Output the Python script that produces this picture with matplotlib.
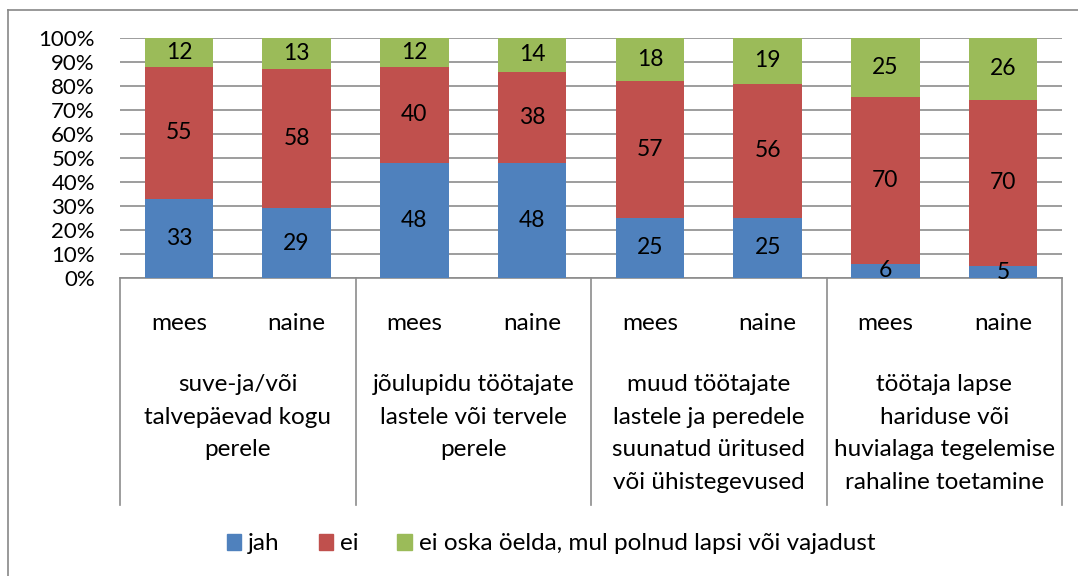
import numpy as np
import matplotlib.pyplot as plt
from matplotlib.lines import Line2D
from matplotlib.patches import Patch

plt.rcParams['font.family'] = ['Lato', 'DejaVu Sans']

groups = [
    "suve-ja/või\ntalvepäevad kogu\nperele",
    "jõulupidu töötajate\nlastele või tervele\nperele",
    "muud töötajate\nlastele ja peredele\nsuunatud üritused\nvõi ühistegevused",
    "töötaja lapse\nhariduse või\nhuvialaga tegelemise\nrahaline toetamine",
]
genders = ["mees", "naine"]
jah = [33, 29, 48, 48, 25, 25, 6, 5]
ei = [55, 58, 40, 38, 57, 56, 70, 70]
ei_oska = [12, 13, 12, 14, 18, 19, 25, 26]
series_names = ["jah", "ei", "ei oska öelda, mul polnud lapsi või vajadust"]
colors = ["#4F81BD", "#C0504D", "#9BBB59"]

W, H = 1078, 576
FS = 17.5
fig = plt.figure(figsize=(W / 100, H / 100), dpi=100)
ax = fig.add_axes([120 / W, 1 - 278 / H, (1062 - 120) / W, 240 / H])

# outer chart frame (left and top edges)
fig.add_artist(Line2D([8 / W, 8 / W], [0, 1 - 10 / H], color="#888888", lw=1.2))
fig.add_artist(Line2D([8 / W, 1], [1 - 10 / H, 1 - 10 / H], color="#888888", lw=1.2))

data = np.array([jah, ei, ei_oska], dtype=float)
pct = data / data.sum(axis=0) * 100
x = np.arange(len(jah))
bottom = np.zeros(len(jah))
for vals, raw, c in zip(pct, data, colors):
    ax.bar(x, vals, bottom=bottom, width=0.58, color=c, zorder=3)
    for xi, b, v, r in zip(x, bottom, vals, raw):
        ax.text(xi, b + v / 2, f"{int(r)}", ha="center", va="center",
                fontsize=16.5, zorder=4)
    bottom += vals

ax.set_xlim(-0.5, len(jah) - 0.5)
ax.set_ylim(0, 100)
ax.set_yticks(np.arange(0, 101, 10))
ax.set_yticklabels([f"{t}%" for t in range(0, 101, 10)], fontsize=16)
ax.yaxis.grid(True, color="#8c8c8c", lw=1.2, zorder=0)
ax.tick_params(axis="y", length=0, pad=18)
ax.set_xticks([])
for s in ax.spines.values():
    s.set_visible(False)

# two-level category axis below the bars
trans = ax.get_xaxis_transform()
box_bottom = (278 - 505) / 240
ax.plot([-0.5, len(jah) - 0.5], [0, 0], color="#8c8c8c", lw=1.2,
        transform=trans, clip_on=False)
for b in [-0.5, 1.5, 3.5, 5.5, 7.5]:
    ax.plot([b, b], [0, box_bottom], color="#8c8c8c", lw=1.2,
            transform=trans, clip_on=False)
for xi in x:
    ax.text(xi, (278 - 323) / 240, genders[xi % 2], ha="center", va="center",
            fontsize=FS, transform=trans)
for gi, g in enumerate(groups):
    ax.text(2 * gi + 0.5, (278 - 374) / 240, g, ha="center", va="top",
            fontsize=FS, linespacing=1.68, transform=trans)

handles = [Patch(color=c) for c in colors]
fig.legend(handles, series_names, loc="center", bbox_to_anchor=(551 / W, 1 - 544 / H),
           ncol=3, frameon=False, fontsize=FS, handlelength=0.58, handleheight=0.66,
           handletextpad=0.3, columnspacing=1.6)

fig.savefig("out.png", dpi=100)
